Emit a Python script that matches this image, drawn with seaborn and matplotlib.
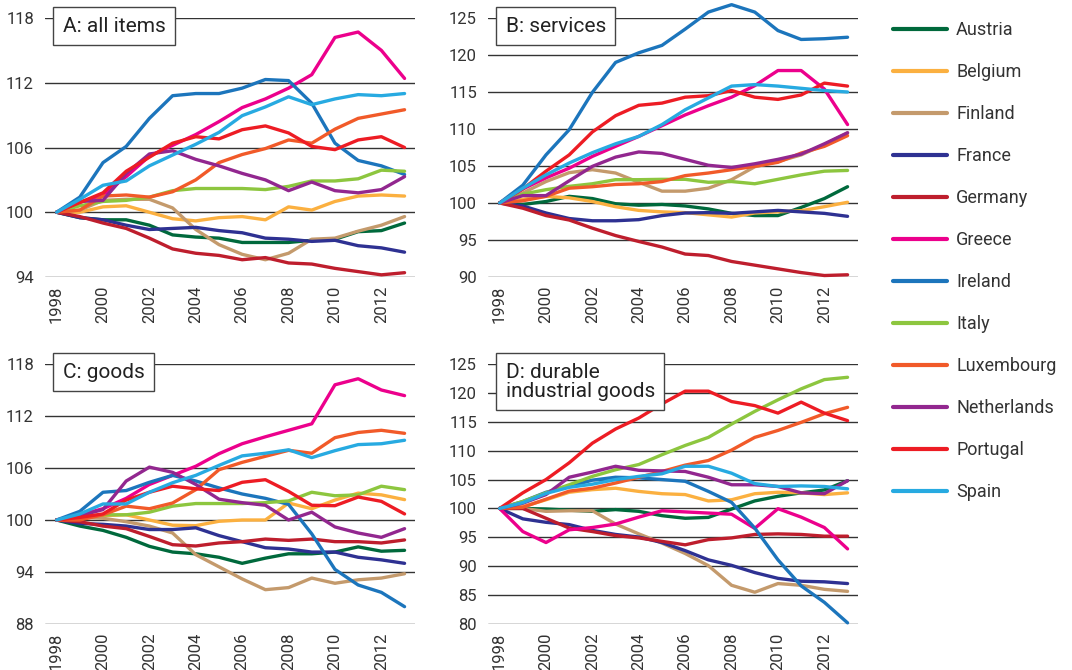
import pandas as pd
import numpy as np
import matplotlib
matplotlib.use("Agg")
import matplotlib.pyplot as plt
from matplotlib.lines import Line2D
import seaborn as sns

# Years and countries
years = list(range(1998, 2014))
countries = ["Austria", "Belgium", "Finland", "France", "Germany", "Greece",
             "Ireland", "Italy", "Luxembourg", "Netherlands", "Portugal", "Spain"]

colors = {"Austria": "#00693c", "Belgium": "#fbb040", "Finland": "#c49a6c",
          "France": "#2e3192", "Germany": "#be1e2d", "Greece": "#ec008c",
          "Ireland": "#1c75bc", "Italy": "#8dc63f", "Luxembourg": "#f15a29",
          "Netherlands": "#92278f", "Portugal": "#ed1c24", "Spain": "#27aae1"}

# Panel A: all items
all_items = {
    "Austria": [100, 99.5, 99.3, 99.3, 98.8, 97.9, 97.7, 97.6, 97.2, 97.2, 97.2, 97.4, 97.5, 98.2, 98.3, 99.0],
    "Belgium": [100, 100.0, 100.5, 100.6, 100.0, 99.4, 99.2, 99.5, 99.6, 99.3, 100.5, 100.2, 101.0, 101.5, 101.6, 101.5],
    "Finland": [100, 100.2, 101.1, 101.2, 101.2, 100.4, 98.4, 97.0, 96.1, 95.6, 96.2, 97.5, 97.6, 98.25, 98.8, 99.6],
    "France": [100, 99.5, 99.3, 98.8, 98.4, 98.5, 98.6, 98.3, 98.1, 97.6, 97.5, 97.3, 97.4, 96.9, 96.7, 96.3],
    "Germany": [100, 99.6, 99.0, 98.5, 97.6, 96.6, 96.2, 96.0, 95.6, 95.8, 95.3, 95.2, 94.8, 94.5, 94.2, 94.4],
    "Greece": [100, 100.9, 101.6, 103.3, 105.2, 106.2, 107.2, 108.4, 109.7, 110.5, 111.5, 112.75, 116.2, 116.7, 115.0, 112.4],
    "Ireland": [100, 101.4, 104.6, 106.1, 108.7, 110.8, 111.0, 111.0, 111.5, 112.3, 112.2, 110.1, 106.4, 104.8, 104.3, 103.5],
    "Italy": [100, 100.6, 101.0, 101.1, 101.4, 102.0, 102.2, 102.2, 102.2, 102.1, 102.4, 102.9, 102.9, 103.1, 103.9, 103.8],
    "Luxembourg": [100, 100.2, 101.5, 101.6, 101.4, 101.9, 103.0, 104.6, 105.35, 105.9, 106.7, 106.4, 107.7, 108.7, 109.1, 109.5],
    "Netherlands": [100, 101.0, 101.1, 103.6, 105.4, 105.7, 104.9, 104.3, 103.6, 103.0, 102.0, 102.8, 102.0, 101.8, 102.1, 103.3],
    "Portugal": [100, 100.9, 101.8, 103.8, 105.1, 106.4, 107.0, 106.8, 107.65, 108.0, 107.35, 106.1, 105.8, 106.7, 107.0, 106.0],
    "Spain": [100, 101.2, 102.5, 102.9, 104.3, 105.3, 106.3, 107.4, 108.95, 109.76, 110.7, 109.97, 110.5, 110.9, 110.8, 111.0],
}

# Panel B: services
services = {
    "Austria": [100, 99.8, 100.2, 100.9, 100.6, 99.9, 99.7, 99.8, 99.6, 99.2, 98.6, 98.3, 98.3, 99.4, 100.6, 102.2],
    "Belgium": [100, 100.5, 100.9, 100.7, 100.2, 99.5, 99.0, 98.8, 98.7, 98.4, 98.1, 98.65, 98.8, 98.96, 99.5, 100.1],
    "Finland": [100, 101.35, 102.9, 104.1, 104.5, 104.05, 102.8, 101.6, 101.6, 102.0, 103.15, 104.9, 105.6, 106.5, 107.9, 109.45],
    "France": [100, 99.6, 98.65, 97.9, 97.6, 97.6, 97.75, 98.3, 98.65, 98.7, 98.6, 98.8, 99.0, 98.8, 98.6, 98.2],
    "Germany": [100, 99.3, 98.3, 97.7, 96.6, 95.6, 94.8, 94.05, 93.1, 92.9, 92.1, 91.6, 91.1, 90.6, 90.2, 90.3],
    "Greece": [100, 101.9, 103.4, 104.7, 106.3, 107.66, 109.0, 110.45, 111.9, 113.15, 114.3, 115.86, 117.9, 117.9, 115.4, 110.6],
    "Ireland": [100, 102.4, 106.5, 109.9, 114.95, 119.0, 120.3, 121.3, 123.5, 125.8, 126.8, 125.8, 123.3, 122.1, 122.2, 122.4],
    "Italy": [100, 101.2, 101.8, 102.25, 102.6, 103.15, 103.15, 103.2, 103.2, 102.8, 102.9, 102.6, 103.2, 103.8, 104.3, 104.4],
    "Luxembourg": [100, 100.3, 100.9, 102.0, 102.2, 102.5, 102.6, 102.9, 103.7, 104.05, 104.5, 104.95, 105.5, 106.75, 107.65, 109.1],
    "Netherlands": [100, 101.0, 101.0, 103.0, 104.95, 106.2, 106.9, 106.7, 105.9, 105.1, 104.8, 105.3, 105.9, 106.6, 108.0, 109.5],
    "Portugal": [100, 101.9, 104.3, 106.5, 109.6, 111.8, 113.2, 113.5, 114.3, 114.5, 115.2, 114.3, 114.0, 114.6, 116.2, 115.8],
    "Spain": [100, 102.0, 103.8, 105.4, 106.8, 108.0, 109.0, 110.6, 112.6, 114.2, 115.8, 116.0, 115.8, 115.5, 115.2, 115.0],
}

# Panel C: goods
goods = {
    "Austria": [100, 99.3, 98.8, 98.0, 96.96, 96.3, 96.1, 95.7, 95.0, 95.6, 96.1, 96.1, 96.3, 96.9, 96.4, 96.5],
    "Belgium": [100, 100.3, 100.5, 100.6, 100.0, 99.4, 99.35, 99.85, 100.0, 100.0, 101.96, 101.3, 102.3, 103.1, 102.9, 102.35],
    "Finland": [100, 100.3, 100.2, 99.8, 99.3, 98.5, 96.0, 94.6, 93.2, 91.96, 92.2, 93.3, 92.7, 93.1, 93.3, 93.8],
    "France": [100, 99.6, 99.5, 99.3, 98.9, 98.9, 99.1, 98.2, 97.5, 96.8, 96.65, 96.3, 96.3, 95.7, 95.4, 95.0],
    "Germany": [100, 99.8, 99.3, 99.0, 98.1, 97.15, 97.0, 97.35, 97.5, 97.8, 97.65, 97.8, 97.5, 97.5, 97.35, 97.7],
    "Greece": [100, 100.6, 101.3, 102.5, 104.1, 105.15, 106.2, 107.65, 108.8, 109.6, 110.35, 111.1, 115.6, 116.3, 115.0, 114.35],
    "Ireland": [100, 101.0, 103.2, 103.4, 104.35, 105.15, 104.5, 103.7, 103.0, 102.5, 101.8, 98.4, 94.3, 92.5, 91.65, 90.0],
    "Italy": [100, 100.4, 100.6, 100.6, 100.9, 101.6, 101.9, 101.9, 101.9, 102.0, 102.2, 103.2, 102.8, 102.9, 103.9, 103.5],
    "Luxembourg": [100, 100.0, 100.6, 101.6, 101.3, 101.96, 103.5, 105.8, 106.65, 107.35, 108.04, 107.7, 109.5, 110.1, 110.35, 110.0],
    "Netherlands": [100, 100.5, 101.2, 104.5, 106.1, 105.5, 104.1, 102.4, 102.0, 101.7, 100.0, 100.9, 99.2, 98.5, 98.0, 99.0],
    "Portugal": [100, 100.3, 100.7, 102.3, 103.2, 103.9, 103.6, 103.4, 104.35, 104.65, 103.3, 101.7, 101.65, 102.65, 102.15, 100.7],
    "Spain": [100, 100.7, 101.85, 101.85, 103.2, 104.3, 105.15, 106.3, 107.4, 107.7, 108.1, 107.2, 108.0, 108.7, 108.8, 109.2],
}

# Panel D: durable industrial goods
durables = {
    "Austria": [100, 100.0, 99.9, 99.7, 99.5, 99.8, 99.5, 98.75, 98.3, 98.45, 99.9, 101.3, 102.1, 102.7, 103.2, 104.8],
    "Belgium": [100, 100.3, 101.5, 102.8, 103.25, 103.5, 102.95, 102.55, 102.4, 101.3, 101.5, 102.55, 102.8, 102.7, 102.4, 102.7],
    "Finland": [100, 100.0, 99.5, 99.6, 99.6, 97.3, 95.6, 94.0, 92.2, 90.1, 86.7, 85.5, 87.0, 86.7, 86.0, 85.65],
    "France": [100, 98.2, 97.6, 97.2, 96.2, 95.5, 95.05, 94.1, 92.7, 91.1, 90.15, 88.9, 87.9, 87.4, 87.3, 87.0],
    "Germany": [100, 100.0, 98.3, 96.6, 96.0, 95.3, 94.9, 94.3, 93.7, 94.6, 94.9, 95.5, 95.6, 95.5, 95.2, 95.2],
    "Greece": [100, 96.0, 94.1, 96.3, 96.7, 97.3, 98.5, 99.6, 99.4, 99.2, 99.0, 96.55, 99.96, 98.5, 96.7, 93.0],
    "Ireland": [100, 101.2, 102.8, 103.8, 104.9, 105.4, 105.3, 105.0, 104.7, 102.95, 101.05, 96.6, 91.1, 86.6, 83.75, 80.2],
    "Italy": [100, 101.2, 102.7, 104.1, 105.55, 106.7, 107.6, 109.3, 110.9, 112.3, 114.6, 116.8, 118.8, 120.7, 122.3, 122.7],
    "Luxembourg": [100, 100.2, 101.6, 103.0, 103.5, 104.4, 105.4, 106.4, 107.5, 108.3, 110.1, 112.3, 113.5, 114.9, 116.4, 117.5],
    "Netherlands": [100, 100.9, 102.4, 105.4, 106.3, 107.3, 106.6, 106.5, 106.4, 105.4, 104.1, 104.1, 103.8, 102.7, 102.55, 104.8],
    "Portugal": [100, 102.7, 105.0, 107.9, 111.3, 113.75, 115.65, 118.1, 120.3, 120.3, 118.5, 117.8, 116.5, 118.4, 116.5, 115.2],
    "Spain": [100, 101.0, 102.6, 103.65, 104.2, 105.0, 105.55, 106.0, 107.3, 107.3, 106.1, 104.3, 103.8, 103.9, 103.8, 103.4],
}

panels = [
    ("A: all items", all_items, [94, 100, 106, 112, 118]),
    ("B: services", services, [90, 95, 100, 105, 110, 115, 120, 125]),
    ("C: goods", goods, [88, 94, 100, 106, 112, 118]),
    ("D: durable\nindustrial goods", durables, [80, 85, 90, 95, 100, 105, 110, 115, 120, 125]),
]

sns.set_style("white")
plt.rcParams["font.family"] = ["Roboto", "DejaVu Sans"]
text_col = "#333333"

fig = plt.figure(figsize=(10.72, 6.7), dpi=100)
W, H = 1072, 670
# axes boxes in pixels: left, top, right, bottom
boxes = [(45, 18, 415, 277), (488, 18, 858, 277),
         (45, 364, 415, 624), (488, 364, 858, 624)]

for (title, data, yticks), (l, t, r, b) in zip(panels, boxes):
    ax = fig.add_axes([l / W, 1 - b / H, (r - l) / W, (b - t) / H])
    df = pd.DataFrame(data, index=years)
    df.index.name = "year"
    long = df.reset_index().melt(id_vars="year", var_name="country", value_name="value")
    sns.lineplot(data=long, x="year", y="value", hue="country", hue_order=countries,
                 palette=colors, linewidth=2.4, legend=False, ax=ax, clip_on=False)
    ax.set_xlim(1997.5, 2013.45)
    ax.set_ylim(yticks[0], yticks[-1])
    ax.set_yticks(yticks)
    ax.set_xticks(range(1998, 2013, 2))
    ax.tick_params(axis="x", rotation=90, length=0, pad=6, labelsize=12, colors=text_col)
    ax.tick_params(axis="y", length=0, pad=8, labelsize=12, colors=text_col)
    ax.grid(axis="y", color="#333333", linewidth=1.0)
    ax.set_axisbelow(True)
    for s in ax.spines.values():
        s.set_visible(False)
    ax.set_xlabel("")
    ax.set_ylabel("")
    ax.text(0.048, 1.005, title, transform=ax.transAxes, ha="left", va="top",
            fontsize=15, color="#222222", linespacing=1.0, zorder=5,
            bbox=dict(boxstyle="square,pad=0.45", fc="white", ec="#444444", lw=1.0))

handles = [Line2D([0], [0], color=colors[c], lw=3) for c in countries]
fig.legend(handles, countries, loc="upper left", bbox_to_anchor=(893 / W, 1 - 21 / H),
           frameon=False, fontsize=13, labelspacing=1.33, handlelength=3.0,
           handletextpad=0.5, borderpad=0, borderaxespad=0, labelcolor=text_col)

fig.savefig("out.png", dpi=100)
